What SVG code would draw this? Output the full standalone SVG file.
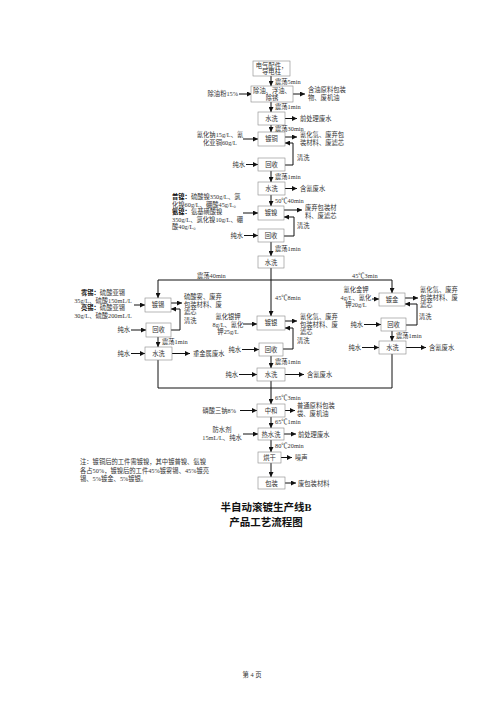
<svg xmlns="http://www.w3.org/2000/svg" width="500" height="707" viewBox="0 0 500 707">
<style>
.box{fill:#fff;stroke:#888;stroke-width:0.6}
.t{font-family:"Liberation Serif","Noto Sans CJK SC",serif;font-size:6.3px;fill:#333}
.c{text-anchor:middle}
.e{text-anchor:end}
.b{font-weight:bold;fill:#111}
.ln{stroke:#111;stroke-width:1;fill:none}
.ar{stroke:#111;stroke-width:1;fill:none;marker-end:url(#ah)}
.title{font-family:"Liberation Serif","Noto Sans CJK SC",serif;font-size:10.5px;font-weight:bold;fill:#111;text-anchor:middle}
</style>
<defs>
<marker id="ah" viewBox="0 0 10 10" refX="10" refY="5" markerWidth="5" markerHeight="5" markerUnits="userSpaceOnUse" orient="auto"><path d="M0,0 L10,5 L0,10 z" fill="#111"/></marker>
</defs>
<rect width="500" height="707" fill="#fff"/>

<g id="connectors">
<path class="ar" d="M271,76 V86"/>
<path class="ar" d="M239,94 H252"/>
<path class="ar" d="M293,94 H305"/>
<path class="ar" d="M271,102 V112"/>
<path class="ar" d="M285,118.5 H297"/>
<path class="ar" d="M271,125 V132"/>
<path class="ar" d="M243,139 H258"/>
<path class="ar" d="M285,137 H297"/>
<path class="ar" d="M285,165 H293 V143 H285"/>
<path class="ar" d="M246,164.5 H258"/>
<path class="ar" d="M271,171 V182"/>
<path class="ar" d="M285,188.5 H297"/>
<path class="ar" d="M271,195 V206"/>
<path class="ar" d="M243,213 H258"/>
<path class="ar" d="M284,210 H302"/>
<path class="ar" d="M284,236 H294 V217 H284"/>
<path class="ar" d="M244,235.5 H258"/>
<path class="ar" d="M271,242 V256"/>
<path class="ln" d="M271,268 V280"/>
<path class="ar" d="M271,280 H158 V298"/>
<path class="ar" d="M271,280 H392 V293"/>
<path class="ar" d="M271,280 V316"/>
<path class="ar" d="M134,305 H145"/>
<path class="ar" d="M171,303 H182"/>
<path class="ar" d="M171,330 H180 V309 H171"/>
<path class="ar" d="M131,330 H146"/>
<path class="ar" d="M158,337 V347"/>
<path class="ar" d="M131,353.5 H145"/>
<path class="ar" d="M172,353.5 H190"/>
<path class="ln" d="M158,360 V388"/>
<path class="ar" d="M243,324 H257"/>
<path class="ar" d="M285,321 H297"/>
<path class="ar" d="M283,349 H293 V328 H285"/>
<path class="ar" d="M242,349.5 H259"/>
<path class="ar" d="M271,356 V368"/>
<path class="ar" d="M239,374.5 H257"/>
<path class="ar" d="M285,374.5 H304"/>
<path class="ln" d="M271,381 V388"/>
<path class="ar" d="M372,299 H379"/>
<path class="ar" d="M405,298 H418"/>
<path class="ar" d="M406,325 H417 V304 H405"/>
<path class="ar" d="M364,324.5 H381"/>
<path class="ar" d="M392,331 V341"/>
<path class="ar" d="M362,347.5 H379"/>
<path class="ar" d="M406,347.5 H426"/>
<path class="ln" d="M392,354 V388"/>
<path class="ln" d="M158,388 H392"/>
<path class="ar" d="M271,388 V404"/>
<path class="ar" d="M240,410.5 H257"/>
<path class="ar" d="M285,410.5 H295"/>
<path class="ar" d="M271,417 V428"/>
<path class="ar" d="M243,434 H258"/>
<path class="ar" d="M284,434 H296"/>
<path class="ar" d="M271,440 V452"/>
<path class="ar" d="M281,457.5 H292"/>
<path class="ar" d="M271,463 V477"/>
<path class="ar" d="M285,483 H296"/>
</g>

<g id="flow-labels" class="t">
<text x="275" y="84">震荡5min</text>
<text x="275" y="109">震荡1min</text>
<text x="275" y="131">震荡30min</text>
<text x="297" y="160">清洗</text>
<text x="275" y="179">震荡1min</text>
<text x="275" y="203">50℃40min</text>
<text x="297" y="228">清洗</text>
<text x="275" y="251">震荡1min</text>
<text x="197" y="278">震荡40min</text>
<text x="352" y="278">45℃3min</text>
<text x="275" y="300">45℃8min</text>
<text x="184" y="323">清洗</text>
<text x="162" y="344">震荡1min</text>
<text x="297" y="343">清洗</text>
<text x="275" y="364">震荡1min</text>
<text x="419" y="319">清洗</text>
<text x="396" y="338">震荡1min</text>
<text x="275" y="400">65℃3min</text>
<text x="275" y="424">65℃1min</text>
<text x="275" y="448">80℃20min</text>
</g>

<g id="n-parts">
<rect class="box" x="253" y="61" width="37" height="15"/>
<text class="t c" x="271.5" y="67.5">电气配件，</text>
<text class="t c" x="271.5" y="74">导电柱</text>
</g>

<g id="n-degrease">
<rect class="box" x="251" y="86" width="42" height="16"/>
<text class="t c" x="272" y="93">除油、浮油、</text>
<text class="t c" x="272" y="100">除锈</text>
<text class="t e" x="238" y="96">除油粉15%</text>
<text class="t" x="308" y="92">含油原料包装</text>
<text class="t" x="308" y="100">物、废机油</text>
</g>

<g id="n-wash1">
<rect class="box" x="258" y="112" width="27" height="13"/>
<text class="t c" x="271.5" y="121">水洗</text>
<text class="t" x="300" y="121">前处理废水</text>
</g>

<g id="n-copper">
<rect class="box" x="258" y="132" width="27" height="14"/>
<text class="t c" x="271.5" y="141">镀铜</text>
<text class="t c" x="220" y="137">氰化钠15g/L、氰</text>
<text class="t c" x="220" y="144.5">化亚铜60g/L</text>
<text class="t" x="300" y="137">氰化氢、废弃包</text>
<text class="t" x="300" y="145">装材料、废滤芯</text>
</g>

<g id="n-recover1">
<rect class="box" x="258" y="158" width="27" height="13"/>
<text class="t c" x="271.5" y="167">回收</text>
<text class="t e" x="245" y="167">纯水</text>
</g>

<g id="n-wash2">
<rect class="box" x="258" y="182" width="27" height="13"/>
<text class="t c" x="271.5" y="191">水洗</text>
<text class="t" x="300" y="191">含氰废水</text>
</g>

<g id="n-nickel">
<rect class="box" x="258" y="206" width="26" height="14"/>
<text class="t c" x="271" y="215">镀镍</text>
<text class="t" x="172" y="199"><tspan class="b">普镍：</tspan>硫酸镍350g/L、氯</text>
<text class="t" x="172" y="206.5">化镍60g/L、硼酸45g/L。</text>
<text class="t" x="172" y="214"><tspan class="b">氨镍：</tspan>氨基磺酸镍</text>
<text class="t" x="172" y="221.5">350g/L、氯化镍10g/L、硼</text>
<text class="t" x="172" y="229">酸40g/L。</text>
<text class="t" x="305" y="210">废弃包装材</text>
<text class="t" x="305" y="217.5">料、废滤芯</text>
</g>

<g id="n-recover2">
<rect class="box" x="258" y="229" width="26" height="13"/>
<text class="t c" x="271" y="238">回收</text>
<text class="t e" x="243" y="238">纯水</text>
</g>

<g id="n-wash3">
<rect class="box" x="258" y="256" width="26" height="12"/>
<text class="t c" x="271" y="264.5">水洗</text>
</g>

<g id="n-tin">
<rect class="box" x="145" y="298" width="26" height="14"/>
<text class="t c" x="158" y="307">镀锡</text>
<text class="t c" x="103" y="295"><tspan class="b">雾锡：</tspan>硫酸亚锡</text>
<text class="t c" x="103" y="302.5">35g/L、硫酸150mL/L</text>
<text class="t c" x="103" y="310"><tspan class="b">亮锡：</tspan>硫酸亚锡</text>
<text class="t c" x="103" y="317.5">30g/L、硫酸200mL/L</text>
<text class="t" x="184" y="299">硫酸雾、废弃</text>
<text class="t" x="184" y="306.5">包装材料、废</text>
<text class="t" x="184" y="314">滤芯</text>
</g>

<g id="n-tin-recover">
<rect class="box" x="146" y="323" width="25" height="14"/>
<text class="t c" x="158.5" y="332">回收</text>
<text class="t e" x="130" y="332">纯水</text>
</g>

<g id="n-tin-wash">
<rect class="box" x="145" y="347" width="27" height="13"/>
<text class="t c" x="158.5" y="356">水洗</text>
<text class="t e" x="130" y="356">纯水</text>
<text class="t" x="193" y="356">重金属废水</text>
</g>

<g id="n-silver">
<rect class="box" x="257" y="316" width="28" height="14"/>
<text class="t c" x="271" y="325">镀银</text>
<text class="t c" x="228" y="319">氰化银钾</text>
<text class="t c" x="228" y="326.5">8g/L、氰化</text>
<text class="t c" x="228" y="334">钾25g/L</text>
<text class="t" x="300" y="319">氰化氢、废弃</text>
<text class="t" x="300" y="326.5">包装材料、废</text>
<text class="t" x="300" y="334">滤芯</text>
</g>

<g id="n-silver-recover">
<rect class="box" x="259" y="343" width="24" height="13"/>
<text class="t c" x="271" y="352">回收</text>
<text class="t e" x="241" y="352">纯水</text>
</g>

<g id="n-silver-wash">
<rect class="box" x="257" y="368" width="28" height="13"/>
<text class="t c" x="271" y="377">水洗</text>
<text class="t e" x="238" y="377">纯水</text>
<text class="t" x="307" y="377">含氰废水</text>
</g>

<g id="n-gold">
<rect class="box" x="379" y="293" width="26" height="13"/>
<text class="t c" x="392" y="302">镀金</text>
<text class="t c" x="356" y="292">氰化金钾</text>
<text class="t c" x="356" y="299.5">4g/L、氰化</text>
<text class="t c" x="356" y="307">钾20g/L</text>
<text class="t" x="420" y="292">氰化氢、废弃</text>
<text class="t" x="420" y="299.5">包装材料、废</text>
<text class="t" x="420" y="307">滤芯</text>
</g>

<g id="n-gold-recover">
<rect class="box" x="381" y="318" width="25" height="13"/>
<text class="t c" x="393.5" y="327">回收</text>
<text class="t e" x="363" y="327">纯水</text>
</g>

<g id="n-gold-wash">
<rect class="box" x="379" y="341" width="27" height="13"/>
<text class="t c" x="392.5" y="350">水洗</text>
<text class="t e" x="361" y="350">纯水</text>
<text class="t" x="429" y="350">含氰废水</text>
</g>

<g id="n-neutral">
<rect class="box" x="257" y="404" width="28" height="13"/>
<text class="t c" x="271" y="413">中和</text>
<text class="t e" x="236" y="413">磷酸三钠8%</text>
<text class="t" x="297" y="408">普通原料包装</text>
<text class="t" x="297" y="415.5">袋、废机油</text>
</g>

<g id="n-hotwash">
<rect class="box" x="258" y="428" width="26" height="12"/>
<text class="t c" x="271" y="436.5">热水洗</text>
<text class="t c" x="222" y="432">防水剂</text>
<text class="t c" x="222" y="439.5">15mL/L、纯水</text>
<text class="t" x="298" y="436.5">前处理废水</text>
</g>

<g id="n-dry">
<rect class="box" x="258" y="452" width="23" height="11"/>
<text class="t c" x="269.5" y="460">烘干</text>
<text class="t" x="295" y="460">噪声</text>
</g>

<g id="n-pack">
<rect class="box" x="258" y="477" width="27" height="12"/>
<text class="t c" x="271.5" y="485.5">包装</text>
<text class="t" x="298" y="485.5">废包装材料</text>
</g>

<g id="note" class="t">
<text x="80" y="464">注：镀铜后的工件需镀镍，其中镀普镍、氨镍</text>
<text x="80" y="472.5">各占50%，镀镍后的工件45%镀雾锡、45%镀亮</text>
<text x="80" y="481">锡、5%镀金、5%镀银。</text>
</g>

<g id="title">
<text class="title" x="266" y="511">半自动滚镀生产线B</text>
<text class="title" x="266" y="526">产品工艺流程图</text>
</g>

<text class="t c" x="252" y="677">第 4 页</text>
</svg>
